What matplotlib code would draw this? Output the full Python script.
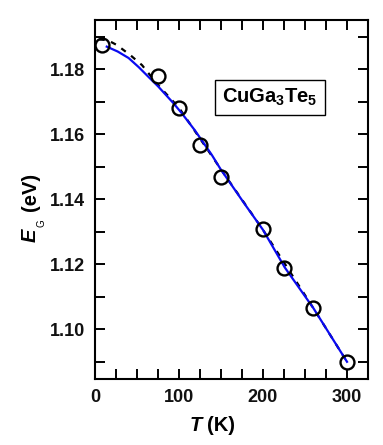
import matplotlib
matplotlib.use("Agg")
import matplotlib.pyplot as plt
from matplotlib.ticker import MultipleLocator

plt.rcParams['font.family'] = ['Liberation Sans', 'DejaVu Sans']
plt.rcParams['mathtext.fontset'] = 'custom'
plt.rcParams['mathtext.rm'] = 'Liberation Sans'
plt.rcParams['mathtext.bf'] = 'Liberation Sans:bold'

# data points
T_pts = [8, 75, 100, 125, 150, 200, 225, 260, 300]
E_pts = [1.1875, 1.178, 1.168, 1.1567, 1.147, 1.1308, 1.119, 1.1067, 1.090]

# blue fit line
T_fit = [14, 27, 40, 52, 64, 75, 93, 103, 119, 139, 149, 177, 200, 226, 260, 300]
E_fit = [1.1870, 1.1855, 1.1835, 1.1807, 1.1776, 1.1748, 1.1697, 1.1666, 1.1612,
         1.1537, 1.1495, 1.1390, 1.1306, 1.1190, 1.1065, 1.0900]

# black dashed line (visible above blue at low T)
T_dash = [5, 15, 26, 42, 56, 75, 100, 150, 200, 260, 300]
E_dash = [1.1892, 1.1890, 1.1875, 1.1844, 1.1813, 1.1752, 1.1682, 1.1492,
          1.1306, 1.1065, 1.0900]

fig = plt.figure(figsize=(3.83, 4.45), dpi=100)
ax = fig.add_axes([95/383, 1-379/445, (368-95)/383, (379-20)/445])

ax.plot(T_dash, E_dash, color='black', lw=1.6, ls=(0, (2.5, 3)), zorder=2)
ax.plot(T_fit, E_fit, color='#0a0af0', lw=1.6, zorder=3)
ax.plot(T_pts, E_pts, 'o', mfc='none', mec='black', ms=10, mew=1.7, zorder=4)

ax.set_xlim(0, 325)
ax.set_ylim(1.0847, 1.1952)
ax.xaxis.set_major_locator(MultipleLocator(100))
ax.xaxis.set_minor_locator(MultipleLocator(25))
ax.yaxis.set_major_locator(MultipleLocator(0.02))
ax.yaxis.set_minor_locator(MultipleLocator(0.01))
ax.tick_params(which='both', direction='in', top=True, right=True, length=7, width=1.4,
               labelsize=13, colors='black')
ax.tick_params(which='major', pad=7)
ax.yaxis.set_major_formatter(plt.FuncFormatter(lambda v, p: f"{v:.2f}"))
for lab in ax.get_xticklabels() + ax.get_yticklabels():
    lab.set_fontweight('bold')
    lab.set_color('#111111')
for s in ax.spines.values():
    s.set_linewidth(1.5)

# x label: italic T + (K)
ax.text(0.348, -0.145, 'T', transform=ax.transAxes, fontsize=14.5, fontweight='bold',
        style='italic', ha='left', va='baseline')
ax.text(0.41, -0.145, '(K)', transform=ax.transAxes, fontsize=14.5, fontweight='bold',
        ha='left', va='baseline')

# y label: italic E with subscript G, then (eV)
ax.text(-0.238, 0.40, 'E', transform=ax.transAxes, fontsize=14.5, fontweight='bold',
        style='italic', rotation=90, ha='center', va='center')
ax.text(-0.196, 0.433, 'G', transform=ax.transAxes, fontsize=7, rotation=90,
        ha='center', va='center')
ax.text(-0.236, 0.522, '(eV)', transform=ax.transAxes, fontsize=14.5, fontweight='bold',
        rotation=90, ha='center', va='center')

ax.text(208.3, 1.1713, r'CuGa$_\mathregular{3}$Te$_\mathregular{5}$', fontsize=14.5,
        fontweight='bold', ha='center', va='center',
        bbox=dict(boxstyle='square,pad=0.35', fc='white', ec='black', lw=1.0))

fig.savefig('out.png', dpi=100)
